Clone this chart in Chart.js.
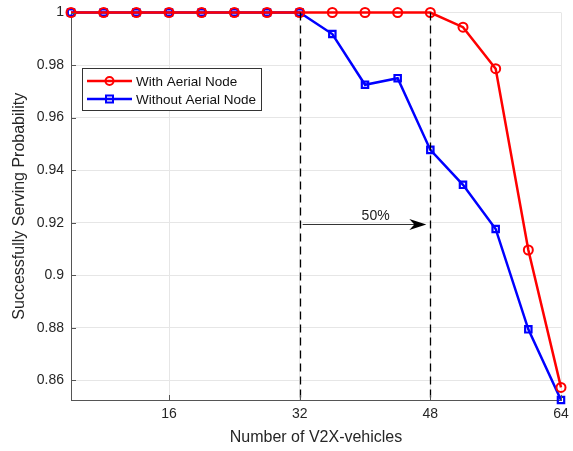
<!DOCTYPE html>
<html>
<head>
<meta charset="utf-8">
<script src="https://cdn.jsdelivr.net/npm/chart.js@4.4.0/dist/chart.umd.min.js"></script>
<style>
  html, body { margin: 0; padding: 0; background: #fff; }
  #wrap { width: 573px; height: 451px; }
</style>
</head>
<body>
<div id="wrap"><canvas id="chart" width="573" height="451"></canvas></div>
<script>
const vehicles = [4, 8, 12, 16, 20, 24, 28, 32, 36, 40, 44, 48, 52, 56, 60, 64];
const withAerial = [1, 1, 1, 1, 1, 1, 1, 1, 1, 1, 1, 1, 0.9944, 0.9786, 0.9096, 0.8573];
const withoutAerial = [1, 1, 1, 1, 1, 1, 1, 1, 0.9918, 0.9725, 0.975, 0.9477, 0.9344, 0.9176, 0.8794, 0.8525];
const xTicks = [16, 32, 48, 64];
const yTicks = [0.86, 0.88, 0.9, 0.92, 0.94, 0.96, 0.98, 1];
const markerX = [32, 48];
const arrowY = 0.9195;
const arrowLabel = '50%';

const FONT = '"Liberation Sans", Arial, sans-serif';

const ctx = document.getElementById('chart').getContext('2d');

// Dashed markers, arrow, inner ticks, box and legend
const annotPlugin = {
  id: 'annot',
  afterDatasetsDraw(chart) {
    const { ctx, chartArea: { left, right, top, bottom }, scales: { x, y } } = chart;
    ctx.save();

    // dashed verticals
    ctx.strokeStyle = '#000';
    ctx.lineWidth = 1.3;
    ctx.setLineDash([8, 5]);
    markerX.forEach(v => {
      const px = Math.round(x.getPixelForValue(v)) + 0.5;
      ctx.beginPath();
      ctx.moveTo(px, y.getPixelForValue(1));
      ctx.lineTo(px, bottom);
      ctx.stroke();
    });
    ctx.setLineDash([]);

    // arrow
    const ay = Math.round(y.getPixelForValue(arrowY)) + 0.5;
    const ax0 = x.getPixelForValue(markerX[0]) + 3;
    const ax1 = x.getPixelForValue(markerX[1]) - 4;
    ctx.strokeStyle = '#000';
    ctx.lineWidth = 0.8;
    ctx.beginPath();
    ctx.moveTo(ax0, ay);
    ctx.lineTo(ax1 - 8, ay);
    ctx.stroke();
    ctx.fillStyle = '#000';
    ctx.beginPath();
    ctx.moveTo(ax1, ay);
    ctx.lineTo(ax1 - 17, ay - 5.5);
    ctx.lineTo(ax1 - 12, ay);
    ctx.lineTo(ax1 - 17, ay + 5.5);
    ctx.closePath();
    ctx.fill();
    ctx.font = '14px ' + FONT;
    ctx.fillStyle = '#222';
    ctx.textAlign = 'center';
    ctx.textBaseline = 'middle';
    ctx.fillText(arrowLabel, x.getPixelForValue(41.3), ay - 8.5);

    ctx.restore();
  },
  afterDraw(chart) {
    const { ctx, chartArea: { left, right, top, bottom }, scales: { x, y } } = chart;
    ctx.save();
    // inward ticks
    ctx.strokeStyle = '#555';
    ctx.lineWidth = 1;
    xTicks.forEach(v => {
      const px = Math.round(x.getPixelForValue(v)) + 0.5;
      ctx.beginPath();
      ctx.moveTo(px, bottom);
      ctx.lineTo(px, bottom - 5);
      ctx.stroke();
    });
    yTicks.forEach(v => {
      const py = Math.round(y.getPixelForValue(v)) + 0.5;
      ctx.beginPath();
      ctx.moveTo(left, py);
      ctx.lineTo(left + 5, py);
      ctx.stroke();
    });

    // legend
    const lx = 82, ly = 68, lw = 179, lh = 42;
    ctx.fillStyle = '#fff';
    ctx.fillRect(lx, ly, lw, lh);
    ctx.strokeStyle = '#333';
    ctx.lineWidth = 1;
    ctx.strokeRect(lx + 0.5, ly + 0.5, lw, lh);
    chart.data.datasets.forEach((ds, i) => {
      const cy = ly + 13 + i * 18;
      ctx.strokeStyle = ds.borderColor;
      ctx.lineWidth = 2.5;
      ctx.beginPath();
      ctx.moveTo(lx + 5, cy);
      ctx.lineTo(lx + 50, cy);
      ctx.stroke();
      const mx = lx + 27.5;
      ctx.lineWidth = 2;
      if (ds.pointStyle === 'circle') {
        ctx.beginPath();
        ctx.arc(mx, cy, 4, 0, Math.PI * 2);
        ctx.stroke();
      } else {
        ctx.strokeRect(mx - 3.5, cy - 3.5, 7, 7);
      }
      ctx.fillStyle = '#111';
      ctx.font = '13.5px ' + FONT;
      ctx.textAlign = 'left';
      ctx.textBaseline = 'middle';
      ctx.fillText(ds.label, lx + 54, cy + 1);
    });
    ctx.restore();
  }
};

new Chart(ctx, {
  type: 'line',
  data: {
    datasets: [
      {
        label: 'With Aerial Node',
        data: vehicles.map((v, i) => ({ x: v, y: withAerial[i] })),
        borderColor: '#ff0000',
        backgroundColor: '#ff0000',
        borderWidth: 2.5,
        pointStyle: 'circle',
        pointRadius: 4.5,
        pointBorderWidth: 2,
        pointBackgroundColor: 'rgba(255,255,255,0)',
        pointBorderColor: '#ff0000',
        clip: false,
        tension: 0
      },
      {
        label: 'Without Aerial Node',
        data: vehicles.map((v, i) => ({ x: v, y: withoutAerial[i] })),
        borderColor: '#0000ff',
        backgroundColor: '#0000ff',
        borderWidth: 2.5,
        pointStyle: 'rect',
        pointRadius: 4.5,
        pointBorderWidth: 2.2,
        pointBackgroundColor: 'rgba(255,255,255,0)',
        pointBorderColor: '#0000ff',
        clip: false,
        tension: 0
      }
    ]
  },
  options: {
    responsive: false,
    animation: false,
    devicePixelRatio: 1,
    layout: { padding: { top: 12.5, right: 12, left: 0, bottom: 0 } },
    plugins: {
      legend: { display: false },
      tooltip: { enabled: false }
    },
    scales: {
      x: {
        type: 'linear',
        min: 4,
        max: 64,
        afterBuildTicks: s => { s.ticks = xTicks.map(v => ({ value: v })); },
        afterFit: s => { s.height = 51; s.paddingLeft = 0; s.paddingRight = 0; },
        ticks: {
          color: '#262626',
          font: { family: FONT, size: 14 },
          padding: 6,
          maxRotation: 0,
          callback: v => String(v)
        },
        grid: { color: '#e6e6e6', lineWidth: 1, drawTicks: false },
        border: { color: '#555', width: 1 },
        title: {
          display: true,
          text: 'Number of V2X-vehicles',
          color: '#262626',
          font: { family: FONT, size: 16 },
          padding: { top: 4, bottom: 4 }
        }
      },
      y: {
        type: 'linear',
        min: 0.8525,
        max: 1,
        afterBuildTicks: s => { s.ticks = yTicks.map(v => ({ value: v })); },
        afterFit: s => { s.width = 71; s.paddingTop = 0; s.paddingBottom = 0; },
        ticks: {
          color: '#262626',
          font: { family: FONT, size: 14 },
          padding: 7,
          callback: v => String(parseFloat(v.toFixed(2)))
        },
        grid: { color: '#e6e6e6', lineWidth: 1, drawTicks: false },
        border: { color: '#555', width: 1 },
        title: {
          display: true,
          text: 'Successfully Serving Probability',
          color: '#262626',
          font: { family: FONT, size: 16 },
          padding: { top: 10, bottom: 0 }
        }
      }
    }
  },
  plugins: [annotPlugin]
});
</script>
</body>
</html>
